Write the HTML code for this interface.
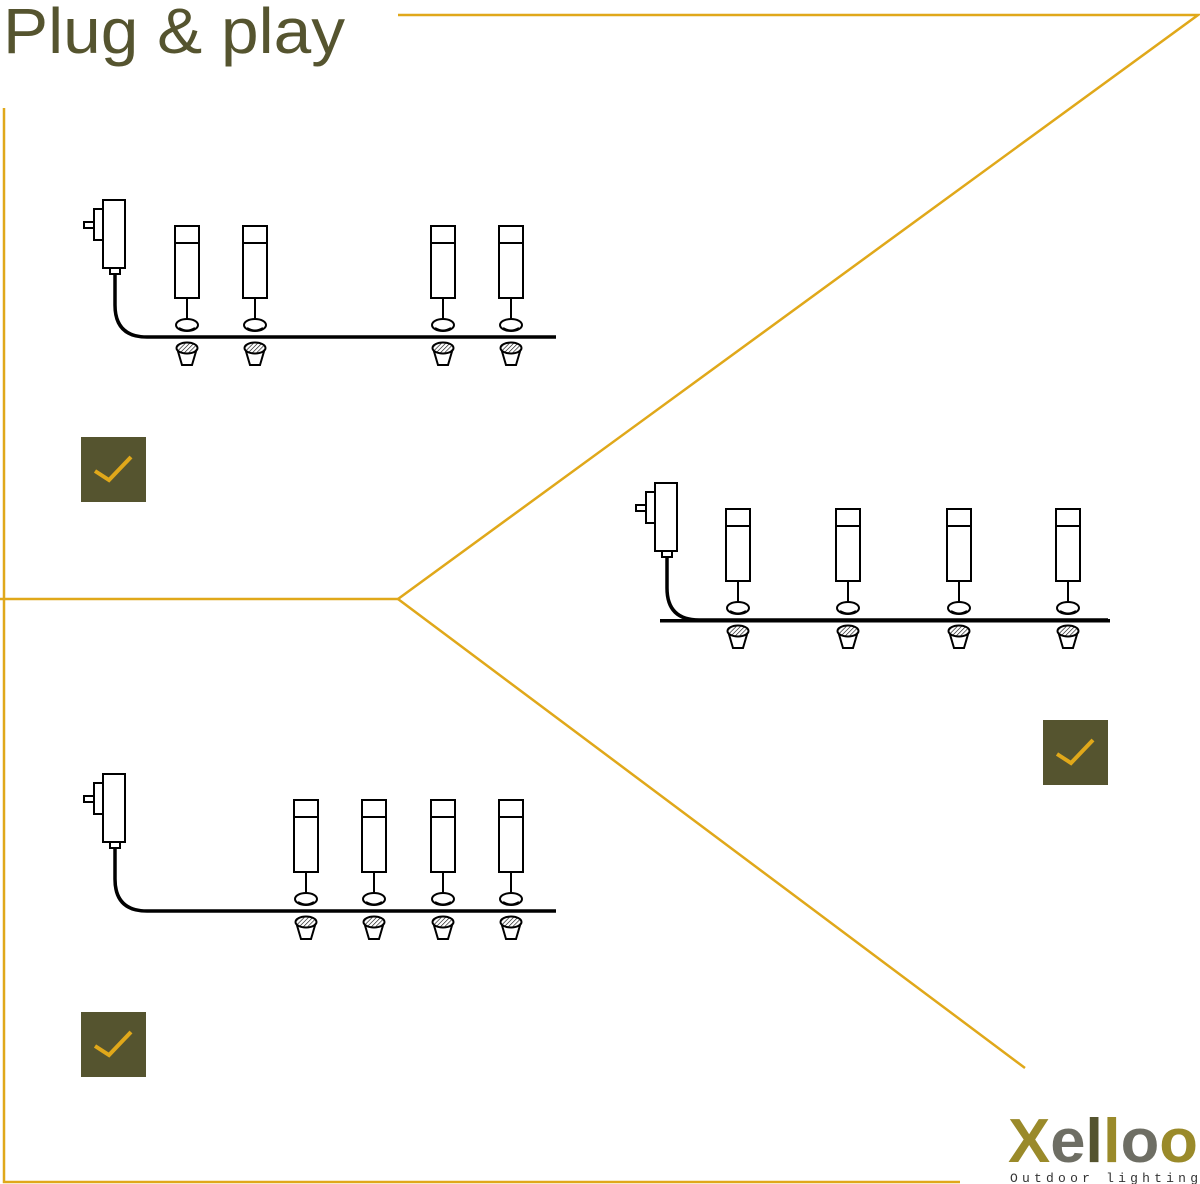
<!DOCTYPE html>
<html><head><meta charset="utf-8"><style>html,body{margin:0;padding:0;background:#fff}svg{display:block}</style></head>
<body>
<svg width="1200" height="1184" viewBox="0 0 1200 1184" xmlns="http://www.w3.org/2000/svg">
<defs>
<pattern id="h" width="3" height="3" patternUnits="userSpaceOnUse" patternTransform="rotate(45)"><rect width="3" height="3" fill="#fff"/><line x1="0" y1="0" x2="0" y2="3" stroke="#000" stroke-width="1.2"/></pattern>
<g id="light" fill="#fff" stroke="#000" stroke-width="2">
<rect x="-12" y="-111" width="24" height="72"/>
<line x1="-12" y1="-94" x2="12" y2="-94"/>
<line x1="0" y1="-39" x2="0" y2="-18"/>
<ellipse cx="0" cy="-12" rx="11" ry="6"/>
<path d="M-8 -9 Q0 -4 8 -9" fill="none"/>
<path d="M-10 11 L-5 28 L5 28 L10 11"/>
<ellipse cx="0" cy="11" rx="10.5" ry="5.5" fill="url(#h)"/>
</g>
<g id="adapter" fill="#fff" stroke="#000" stroke-width="2">
<rect x="84" y="222" width="10" height="6"/>
<rect x="94" y="209" width="9" height="31"/>
<rect x="103" y="200" width="22" height="68"/>
<rect x="110" y="268" width="10" height="6"/>
<path d="M115 274 L115 305 Q115 337 147 337 L556 337" fill="none" stroke-width="3.5"/>
</g>
<g id="check"><rect width="65" height="65" fill="#55542f"/><path d="M14 34 L28 43 L50 20" fill="none" stroke="#e0a81a" stroke-width="4"/></g>
</defs>
<g stroke="#e0a81a" stroke-width="2.5" fill="none">
<path d="M398 15 L1198 15 L398 599 L1025 1068"/>
<path d="M0 599 L398 599"/>
<path d="M4 108 L4 1182 L960 1182"/>
</g>
<text x="3" y="53" font-family="Liberation Sans, sans-serif" font-size="64" fill="#55542f" textLength="342" lengthAdjust="spacingAndGlyphs">Plug &amp; play</text>
<use href="#adapter"/>
<use href="#light" x="187" y="337"/><use href="#light" x="255" y="337"/><use href="#light" x="443" y="337"/><use href="#light" x="511" y="337"/>
<g transform="translate(552,283)"><use href="#adapter"/></g>
<rect x="660" y="619" width="450" height="3.5" fill="#000"/>
<use href="#light" x="738" y="620"/><use href="#light" x="848" y="620"/><use href="#light" x="959" y="620"/><use href="#light" x="1068" y="620"/>
<g transform="translate(0,574)"><use href="#adapter"/></g>
<use href="#light" x="306" y="911"/><use href="#light" x="374" y="911"/><use href="#light" x="443" y="911"/><use href="#light" x="511" y="911"/>
<use href="#check" x="81" y="437"/>
<use href="#check" x="1043" y="720"/>
<use href="#check" x="81" y="1012"/>
<text x="1008" y="1162" font-family="Liberation Sans, sans-serif" font-weight="bold" font-size="62" textLength="190" lengthAdjust="spacingAndGlyphs"><tspan fill="#9a8a2a">X</tspan><tspan fill="#6e6e64">e</tspan><tspan fill="#55542f">l</tspan><tspan fill="#9a8a2a">l</tspan><tspan fill="#6e6e64">o</tspan><tspan fill="#9a8a2a">o</tspan></text>
<text x="1010" y="1182" font-family="Liberation Mono, monospace" font-size="13" fill="#333" textLength="188" lengthAdjust="spacing">Outdoor lighting</text>
</svg>
</body></html>
